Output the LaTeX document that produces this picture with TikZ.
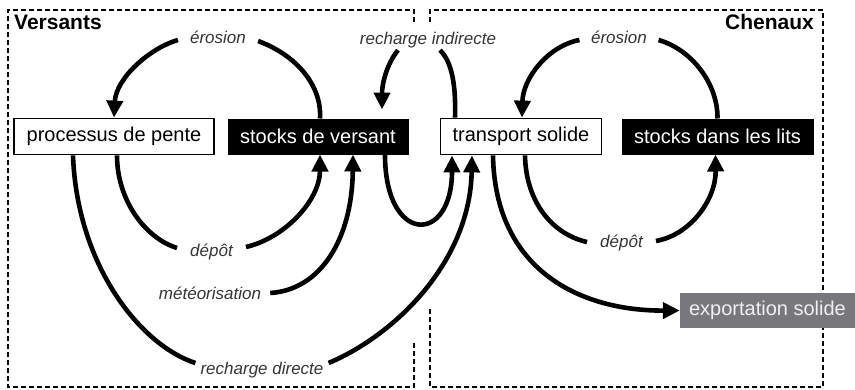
\documentclass[tikz,border=0pt]{standalone}
\usepackage{fontspec}
\setmainfont{Liberation Sans}
\usetikzlibrary{arrows.meta}
\definecolor{lblgray}{HTML}{353535}
\definecolor{expgray}{HTML}{78777B}
\definecolor{exptext}{HTML}{F0F0F0}
\begin{document}
\begin{tikzpicture}[x=1pt,y=-1pt,
  zone/.style={line width=1.6pt,dash pattern=on 5pt off 3pt},
  whitebox/.style={draw=black,fill=white,line width=1.8pt,minimum height=36pt,inner sep=0pt,font=\fontsize{20}{24}\selectfont},
  blackbox/.style={draw=black,fill=black,text=white,line width=1pt,minimum height=35pt,inner sep=0pt,font=\fontsize{20}{24}\selectfont},
  expbox/.style={fill=expgray,text=exptext,minimum height=35pt,inner sep=0pt,font=\fontsize{20}{24}\selectfont},
  lbl/.style={text=lblgray,font=\fontsize{17}{20}\selectfont\itshape,inner ysep=2pt},
  ttl/.style={font=\fontsize{21}{25}\selectfont\bfseries,inner sep=0pt},
  flow/.style={line width=4.6pt,draw=black},
  tip/.style={-{Triangle[length=17pt,width=16pt]}}
]
\useasboundingbox (0,0) rectangle (855,389);
% zones
\draw[zone] (414,22) -- (414,10) -- (8,10) -- (8,387) -- (414,387) -- (414,342);
\draw[zone] (430,22) -- (430,10) -- (823,10) -- (823,387) -- (430,387) -- (430,307);
\node[ttl,anchor=west] (versants) at (14,22) {Versants};
\node[ttl,anchor=east] (chenaux) at (814,22) {Chenaux};
% boxes
\node[whitebox,minimum width=200pt] (processus) at (114,136.5) {processus de pente};
\node[blackbox,minimum width=180pt] (stocks) at (318,136.5) {stocks de versant};
\node[whitebox,minimum width=161pt] (transport) at (521,136.5) {transport solide};
\node[blackbox,minimum width=191pt] (lits) at (717.5,136.5) {stocks dans les lits};
\node[expbox,minimum width=175pt] (export) at (767.5,310.5) {exportation solide};
% labels
\node[lbl,inner xsep=12pt] (eroL) at (218,37) {érosion};
\node[lbl,inner xsep=13pt] (depL) at (211.5,252) {dépôt};
\node[lbl,inner xsep=9pt] (meteo) at (210,293) {météorisation};
\node[lbl,inner xsep=5pt] (rD) at (262,370) {recharge directe};
\node[lbl] (rI) at (428,40) {recharge indirecte};
\node[lbl,inner xsep=11.5pt] (eroR) at (619,37) {érosion};
\node[lbl,inner xsep=13pt] (depR) at (621.5,243) {dépôt};
% left loop
\draw[flow] ([xshift=2pt]stocks.north) .. controls (322,85) and (296,55) .. ([yshift=-4pt]eroL.east);
\draw[flow,tip] ([yshift=-3pt]eroL.west) .. controls (150,48) and (116,78) .. (processus.north);
\draw[flow] ([xshift=3pt]processus.south) .. controls (117,200) and (145,238) .. ([yshift=4pt]depL.west);
\draw[flow,tip] ([yshift=5pt]depL.east) .. controls (285,238) and (320,200) .. ([xshift=2pt]stocks.south);
\draw[flow,tip] (meteo.east) .. controls (320,290) and (352,240) .. ([xshift=35pt]stocks.south);
% recharge directe
\draw[flow] ([xshift=-41pt]processus.south) .. controls (77,265) and (140,345) .. ([yshift=7pt]rD.west);
\draw[flow,tip] ([yshift=7pt]rD.east) .. controls (395,335) and (470,262) .. ([xshift=-49pt]transport.south);
% U loop
\draw[flow,tip] ([xshift=67pt]stocks.south) .. controls (385,245) and (452,245) .. ([xshift=-69pt]transport.south);
% recharge indirecte
\draw[flow] ([xshift=-66pt]transport.north) .. controls (456,85) and (452,62) .. ([xshift=12pt]rI.south);
\draw[flow,tip] ([xshift=-30pt]rI.south) .. controls (386,65) and (382,85) .. ([xshift=64pt,yshift=9pt]stocks.north);
% right loop
\draw[flow] (lits.north) .. controls (718,85) and (693,50) .. ([yshift=-3pt]eroR.east);
\draw[flow,tip] ([yshift=-3pt]eroR.west) .. controls (548,46) and (523,78) .. ([xshift=1pt]transport.north);
\draw[flow] ([xshift=4pt]transport.south) .. controls (526,205) and (555,235) .. ([yshift=1pt]depR.west);
\draw[flow,tip] ([yshift=2pt]depR.east) .. controls (690,235) and (716,200) .. ([xshift=-2pt]lits.south);
% export
\draw[flow,tip] ([xshift=-28pt]transport.south) .. controls (495,270) and (580,311) .. (export.west);
\end{tikzpicture}
\end{document}
